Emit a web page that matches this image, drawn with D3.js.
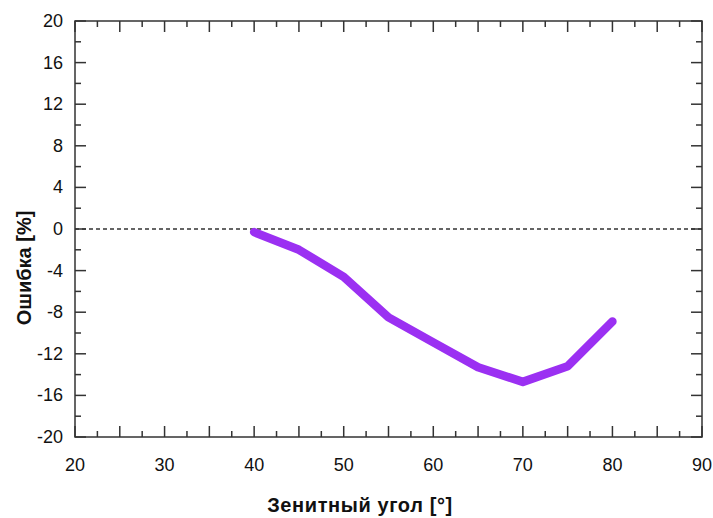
<!DOCTYPE html>
<html lang="ru">
<head>
<meta charset="UTF-8">
<title>Ошибка</title>
<style>
    body { margin: 0; background: #fff; }
    text { font-family: "Liberation Sans", Arial, sans-serif; fill: #111; }
    .tick-label { font-size: 18px; }
    .axis-title { font-size: 20px; font-weight: bold; }
</style>
</head>
<body>
<script src="https://d3js.org/d3.v7.min.js"></script>
<script>
    const width = 713;
    const height = 518;

    const angles = [40, 45, 50, 55, 60, 65, 70, 75, 80];
    const errors = [-0.3, -2.0, -4.6, -8.5, -10.9, -13.3, -14.7, -13.2, -8.9];
    const xTickLabels = [20, 30, 40, 50, 60, 70, 80, 90];
    const yTickLabels = [20, 16, 12, 8, 4, 0, -4, -8, -12, -16, -20];

    const margin = {left: 75, right: 11, top: 21, bottom: 81};

    const svg = d3.select('body').append('svg').attr('width', width).attr('height', height);

    const x = d3.scaleLinear().domain([20, 90]).range([margin.left, width - margin.right]);
    const y = d3.scaleLinear().domain([-20, 20]).range([height - margin.bottom, margin.top]);

    const g = svg.append('g');

    // ticks inside the frame on all four sides
    const xMinor = d3.range(20, 90.01, 2.5);
    const yMinor = d3.range(-20, 20.01, 2);

    const tickLen = v => (v % 5 === 0 ? 11 : 6);
    const yTickLen = v => (v % 4 === 0 ? 11 : 6);

    const ticks = g.append('g').attr('stroke', '#333').attr('stroke-width', 1.5);
    xMinor.forEach(v => {
        ticks.append('line').attr('x1', x(v)).attr('x2', x(v))
            .attr('y1', y(-20)).attr('y2', y(-20) - tickLen(v));
        ticks.append('line').attr('x1', x(v)).attr('x2', x(v))
            .attr('y1', y(20)).attr('y2', y(20) + tickLen(v));
    });
    yMinor.forEach(v => {
        ticks.append('line').attr('y1', y(v)).attr('y2', y(v))
            .attr('x1', x(20)).attr('x2', x(20) + yTickLen(v));
        ticks.append('line').attr('y1', y(v)).attr('y2', y(v))
            .attr('x1', x(90)).attr('x2', x(90) - yTickLen(v));
    });

    g.append('rect')
        .attr('x', x(20)).attr('y', y(20))
        .attr('width', x(90) - x(20)).attr('height', y(-20) - y(20))
        .attr('fill', 'none').attr('stroke', '#333').attr('stroke-width', 1.5);

    // tick labels
    g.selectAll('.xl').data(xTickLabels).enter().append('text')
        .attr('class', 'tick-label')
        .attr('x', d => x(d)).attr('y', y(-20) + 34)
        .attr('text-anchor', 'middle')
        .text(d => d);

    g.selectAll('.yl').data(yTickLabels).enter().append('text')
        .attr('class', 'tick-label')
        .attr('x', x(20) - 12).attr('y', d => y(d) + 6)
        .attr('text-anchor', 'end')
        .text(d => d);

    // zero reference line
    g.append('line')
        .attr('x1', x(20)).attr('x2', x(90))
        .attr('y1', y(0)).attr('y2', y(0))
        .attr('stroke', '#333').attr('stroke-width', 1.3)
        .attr('stroke-dasharray', '4,3');

    const line = d3.line().x((d, i) => x(angles[i])).y(d => y(d));

    g.append('path')
        .datum(errors)
        .attr('d', line)
        .attr('fill', 'none')
        .attr('stroke', '#9b30f2')
        .attr('stroke-width', 8.5)
        .attr('stroke-linecap', 'round')
        .attr('stroke-linejoin', 'round');

    // axis titles
    svg.append('text')
        .attr('class', 'axis-title')
        .attr('x', 360).attr('y', 512)
        .attr('text-anchor', 'middle')
        .attr('letter-spacing', '0.6px')
        .text('Зенитный угол [°]');

    svg.append('text')
        .attr('class', 'axis-title')
        .attr('transform', 'translate(31,268) rotate(-90)')
        .attr('text-anchor', 'middle')
        .text('Ошибка [%]');
</script>
</body>
</html>
